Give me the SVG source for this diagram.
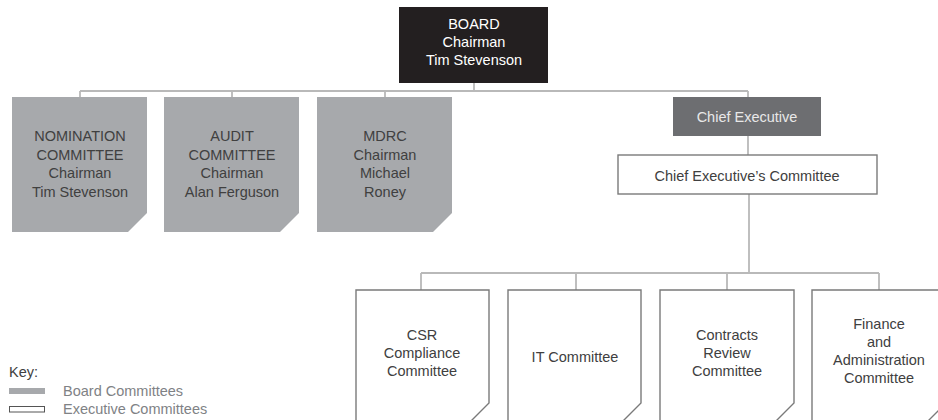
<svg xmlns="http://www.w3.org/2000/svg" width="938" height="420" viewBox="0 0 938 420">
<style>
text{font-family:"Liberation Sans",Arial,sans-serif;font-size:14.5px;text-anchor:middle;fill:#404040}
.w{fill:#ffffff}
.ce{fill:#e8e8e8}
.board{fill:#231f20}
.bc{fill:#a7a9ac}
.ec{fill:#ffffff;stroke:#7a7a7a;stroke-width:1.4}
.conn{fill:none;stroke:#b9b9b9;stroke-width:1.8}
.key{text-anchor:start}
.kl{text-anchor:start;fill:#808285}
</style>
<g id="connectors" class="conn">
<path d="M80,91 H748 M474,83 V91 M80,91 V97 M232,91 V97 M385,91 V97 M748,91 V97"/>
<path d="M748,136 V155"/>
<path d="M749,194 V273 M421,273 H879 M421,273 V290 M576,273 V290 M727,273 V290 M879,273 V290"/>
</g>
<g id="board">
<rect class="board" x="399" y="7" width="149" height="76"/>
<text class="w" x="474" y="29">BOARD</text>
<text class="w" x="474" y="47">Chairman</text>
<text class="w" x="474" y="65">Tim Stevenson</text>
</g>
<g id="nomination">
<path class="bc" d="M12,97 H147 V213 L128,232 H12 Z"/>
<text x="80" y="141">NOMINATION</text>
<text x="80" y="159.5">COMMITTEE</text>
<text x="80" y="178">Chairman</text>
<text x="80" y="196.5">Tim Stevenson</text>
</g>
<g id="audit">
<path class="bc" d="M164,97 H299 V213 L280,232 H164 Z"/>
<text x="232" y="141">AUDIT</text>
<text x="232" y="159.5">COMMITTEE</text>
<text x="232" y="178">Chairman</text>
<text x="232" y="196.5">Alan Ferguson</text>
</g>
<g id="mdrc">
<path class="bc" d="M317,97 H452 V213 L433,232 H317 Z"/>
<text x="385" y="141">MDRC</text>
<text x="385" y="159.5">Chairman</text>
<text x="385" y="178">Michael</text>
<text x="385" y="196.5">Roney</text>
</g>
<g id="chief-executive">
<rect x="673" y="97" width="148" height="39" fill="#6d6e71"/>
<text class="ce" x="747" y="122">Chief Executive</text>
</g>
<g id="chief-executives-committee">
<rect class="ec" x="618" y="155" width="259" height="39"/>
<text x="747" y="180.5">Chief Executive’s Committee</text>
</g>
<g id="csr">
<path class="ec" d="M356,290 H489 V403 L467,425 H356 Z"/>
<text x="422" y="340">CSR</text>
<text x="422" y="358">Compliance</text>
<text x="422" y="376">Committee</text>
</g>
<g id="it">
<path class="ec" d="M508,290 H641 V403 L619,425 H508 Z"/>
<text x="575" y="362">IT Committee</text>
</g>
<g id="contracts">
<path class="ec" d="M660,290 H794 V403 L772,425 H660 Z"/>
<text x="727" y="340">Contracts</text>
<text x="727" y="358">Review</text>
<text x="727" y="376">Committee</text>
</g>
<g id="finance">
<path class="ec" d="M812,290 H946 V403 L924,425 H812 Z"/>
<text x="879" y="329">Finance</text>
<text x="879" y="347">and</text>
<text x="879" y="365">Administration</text>
<text x="879" y="383">Committee</text>
</g>
<g id="key">
<text class="key" x="9" y="377">Key:</text>
<rect x="9" y="388" width="36" height="6" fill="#a7a9ac"/>
<text class="kl" x="63" y="396">Board Committees</text>
<rect x="9.5" y="406.5" width="35" height="5.5" fill="#fff" stroke="#555" stroke-width="1"/>
<text class="kl" x="63" y="414">Executive Committees</text>
</g>
</svg>
